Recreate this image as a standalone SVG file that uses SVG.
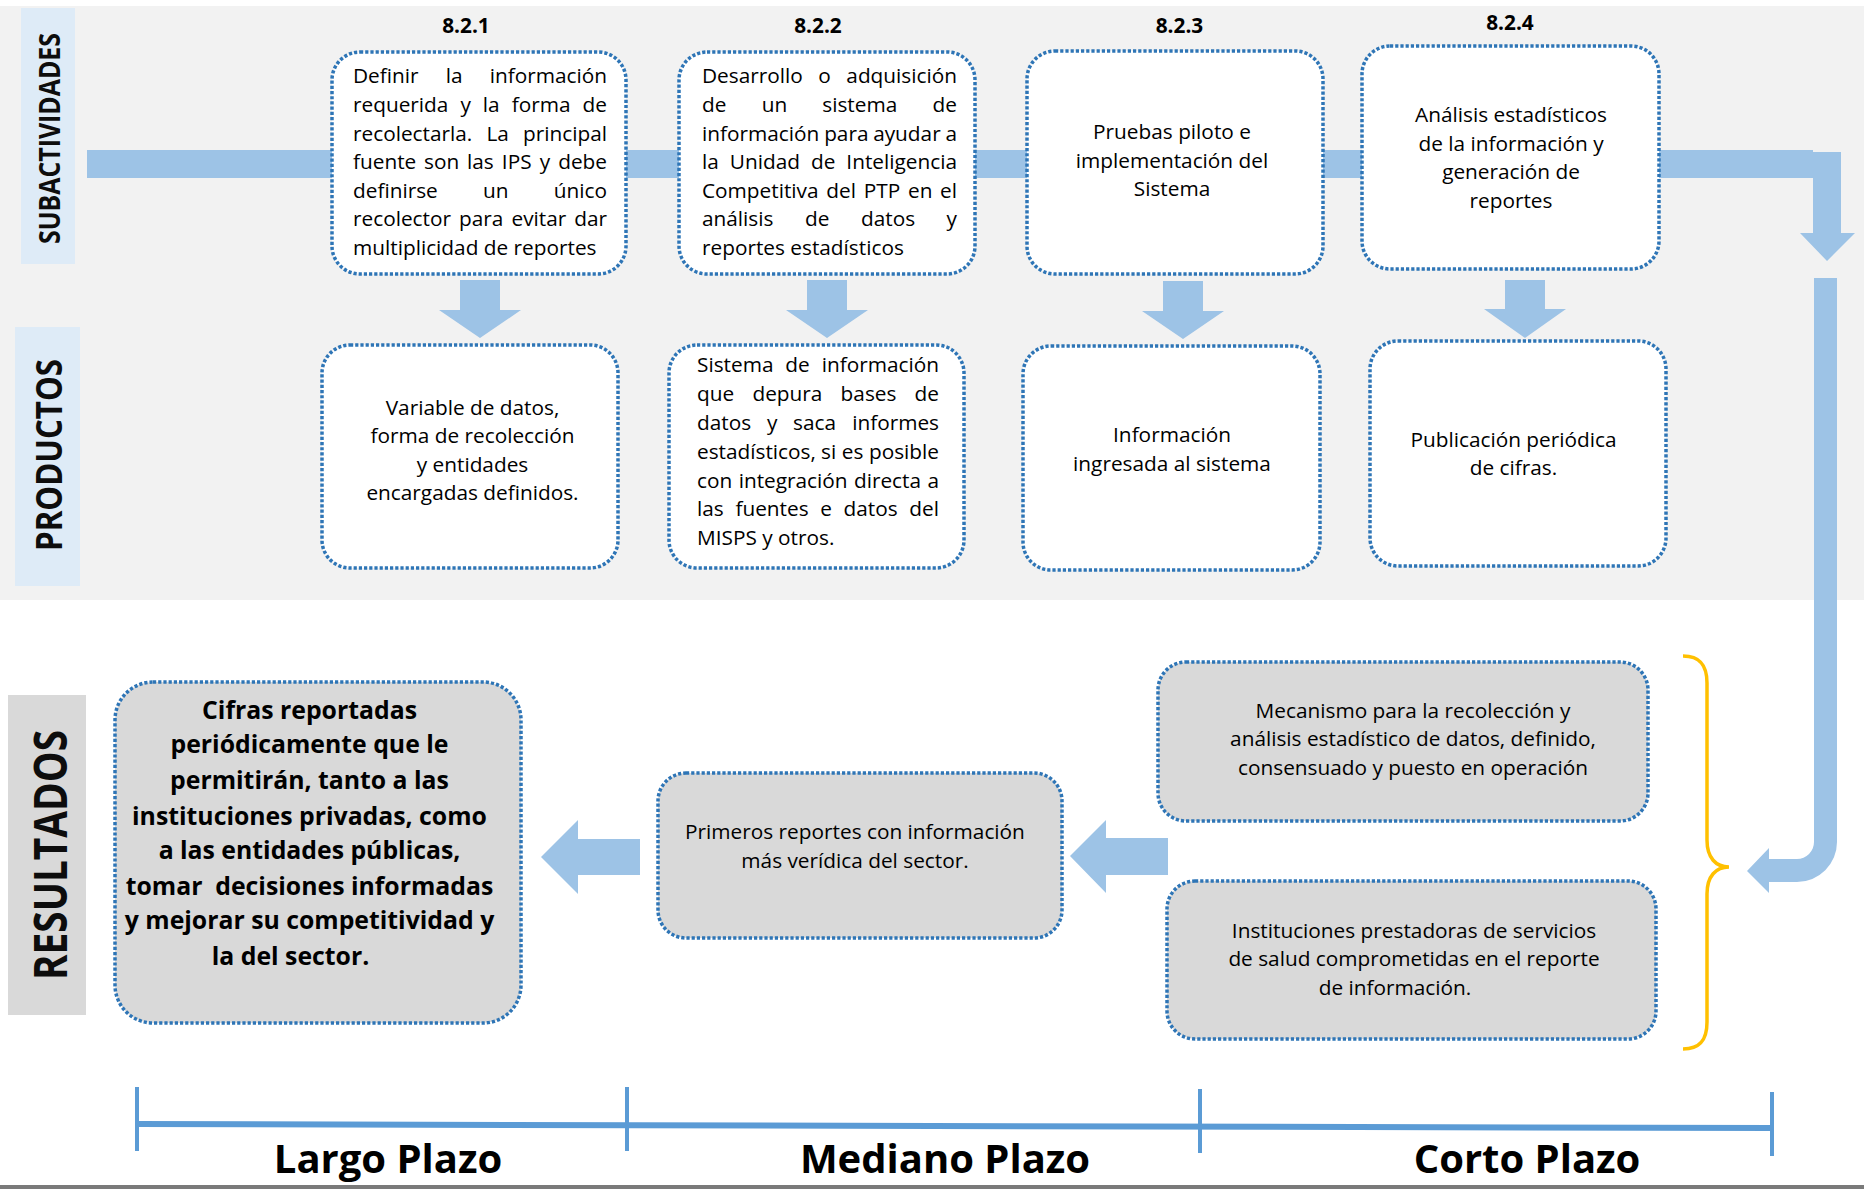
<svg xmlns="http://www.w3.org/2000/svg" width="1864" height="1189" viewBox="0 0 1864 1189">
  <style>
    .t { font-family: "Open Sans", "Liberation Sans", sans-serif; font-size: 20.8px; fill: #000; }
    .m { text-anchor: middle; }
    .e { text-anchor: end; }
    .b { font-weight: bold; }
    .big { font-size: 24.8px; }
    .axis { font-size: 40px; }
    .box { fill: #ffffff; stroke: #2e75b6; stroke-width: 3.5; stroke-dasharray: 3.2 2; }
    .gbox { fill: #d9d9d9; stroke: #2e75b6; stroke-width: 3.5; stroke-dasharray: 3.2 2; }
    .flow { fill: #9dc3e6; }
    .lane { font-family: "Open Sans", "Liberation Sans", sans-serif; font-weight: bold; fill: #0d0d0d; text-anchor: middle; }
    .tl { stroke: #5b9bd5; fill: none; }
  </style>

  <!-- backgrounds -->
  <rect x="0" y="0" width="1864" height="1189" fill="#ffffff"/>
  <rect x="0" y="6" width="1864" height="594" fill="#f2f2f2"/>
  <rect x="0" y="1185" width="1864" height="4" fill="#7a7a7a"/>

  <!-- lane labels -->
  <g id="lane-subactividades">
    <rect x="21" y="8" width="54" height="256" fill="#deebf7"/>
    <text class="lane" font-size="28" transform="translate(59.5,138.5) rotate(-90)" textLength="211" lengthAdjust="spacingAndGlyphs">SUBACTIVIDADES</text>
  </g>
  <g id="lane-productos">
    <rect x="15" y="327" width="65" height="259" fill="#deebf7"/>
    <text class="lane" font-size="36" transform="translate(62,455) rotate(-90)" textLength="192" lengthAdjust="spacingAndGlyphs">PRODUCTOS</text>
  </g>
  <g id="lane-resultados">
    <rect x="8" y="695" width="78" height="320" fill="#d9d9d9"/>
    <text class="lane" font-size="46" transform="translate(66.5,855) rotate(-90)" textLength="250" lengthAdjust="spacingAndGlyphs">RESULTADOS</text>
  </g>

  <!-- connectors -->
  <g id="connectors">
    <!-- main activity bar, turning down at the right -->
    <path class="flow" d="M87,150 H1813 V152 H1841 V233 H1855 L1827,261 L1800,233 H1813 V178 H87 Z"/>
    <!-- activity to product arrows -->
    <polygon class="flow" points="460,280 500,280 500,310 521,310 480,338 439,310 460,310"/>
    <polygon class="flow" points="807,280 847,280 847,310 868,310 827,338 786,310 807,310"/>
    <polygon class="flow" points="1163,281 1203,281 1203,311 1224,311 1183,339 1142,311 1163,311"/>
    <polygon class="flow" points="1505,280 1545,280 1545,309 1566,309 1525,338 1484,309 1505,309"/>
    <!-- down the right side and back into the results -->
    <path class="flow" d="M1814,278 H1837 V842 A40,40 0 0 1 1797,882 H1769 V893 L1747,871 L1769,848 V859 H1797 A17,17 0 0 0 1814,842 Z"/>
    <!-- results flowing left -->
    <polygon class="flow" points="1168,838 1168,875 1106,875 1106,893 1070,856 1106,820 1106,838"/>
    <polygon class="flow" points="640,839 640,875 578,875 578,894 541,857 578,820 578,839"/>
    <!-- brace grouping the short-term results -->
    <path d="M1683,656 C1700,656 1707,665 1707,683 V840 C1707,858 1716,867 1729,867 C1716,867 1707,876 1707,894 V1022 C1707,1040 1700,1049 1683,1049" fill="none" stroke="#ffc000" stroke-width="3.5"/>
  </g>

  <!-- step numbers -->
  <g class="t b m">
    <text x="466" y="33">8.2.1</text>
    <text x="818" y="33">8.2.2</text>
    <text x="1179.5" y="33">8.2.3</text>
    <text x="1510" y="29.5">8.2.4</text>
  </g>

  <!-- 8.2.1 -->
  <g id="act-821" class="t">
    <rect class="box" x="332" y="52" width="294" height="222" rx="28"/>
    <text x="353" y="83.3">Definir</text><text class="m" x="454.1" y="83.3">la</text><text class="e" x="607" y="83.3">información</text>
    <text x="353" y="111.9">requerida</text><text class="m" x="465.6" y="111.9">y</text><text class="m" x="491.2" y="111.9">la</text><text class="m" x="541.1" y="111.9">forma</text><text class="e" x="607" y="111.9">de</text>
    <text x="353" y="140.5">recolectarla.</text><text class="m" x="497.6" y="140.5">La</text><text class="e" x="607" y="140.5">principal</text>
    <text x="353" y="169.1">fuente</text><text class="m" x="441.6" y="169.1">son</text><text class="m" x="480.4" y="169.1">las</text><text class="m" x="516.7" y="169.1">IPS</text><text class="m" x="544.9" y="169.1">y</text><text class="e" x="607" y="169.1">debe</text>
    <text x="353" y="197.7">definirse</text><text class="m" x="495.8" y="197.7">un</text><text class="e" x="607" y="197.7">único</text>
    <text x="353" y="226.3">recolector</text><text class="m" x="481.2" y="226.3">para</text><text class="m" x="538.9" y="226.3">evitar</text><text class="e" x="607" y="226.3">dar</text>
    <text x="353" y="255">multiplicidad de reportes</text>
  </g>

  <!-- 8.2.2 -->
  <g id="act-822" class="t">
    <rect class="box" x="679" y="52" width="296" height="222" rx="28"/>
    <text x="702" y="83.3">Desarrollo</text><text class="m" x="824.5" y="83.3">o</text><text class="e" x="957" y="83.3">adquisición</text>
    <text x="702" y="111.9">de</text><text class="m" x="774.4" y="111.9">un</text><text class="m" x="859.8" y="111.9">sistema</text><text class="e" x="957" y="111.9">de</text>
    <text x="702" y="140.5">información</text><text class="m" x="846.3" y="140.5">para</text><text class="m" x="906.9" y="140.5">ayudar</text><text class="e" x="957" y="140.5">a</text>
    <text x="702" y="169.1">la</text><text class="m" x="764.9" y="169.1">Unidad</text><text class="m" x="823.2" y="169.1">de</text><text class="e" x="957" y="169.1">Inteligencia</text>
    <text x="702" y="197.7">Competitiva</text><text class="m" x="841.1" y="197.7">del</text><text class="m" x="882" y="197.7">PTP</text><text class="m" x="920.3" y="197.7">en</text><text class="e" x="957" y="197.7">el</text>
    <text x="702" y="226.3">análisis</text><text class="m" x="817.2" y="226.3">de</text><text class="m" x="888" y="226.3">datos</text><text class="e" x="957" y="226.3">y</text>
    <text x="702" y="255">reportes estadísticos</text>
  </g>

  <!-- 8.2.3 -->
  <g id="act-823" class="t m">
    <rect class="box" x="1027" y="51" width="296" height="223" rx="28"/>
    <text x="1172" y="139">Pruebas piloto e</text>
    <text x="1172" y="167.6">implementación del</text>
    <text x="1172" y="196.2">Sistema</text>
  </g>

  <!-- 8.2.4 -->
  <g id="act-824" class="t m">
    <rect class="box" x="1362" y="46" width="297" height="223" rx="28"/>
    <text x="1511" y="122">Análisis estadísticos</text>
    <text x="1511" y="150.6">de la información y</text>
    <text x="1511" y="179.2">generación de</text>
    <text x="1511" y="207.8">reportes</text>
  </g>

  <!-- products -->
  <g id="prod-1" class="t m">
    <rect class="box" x="322" y="345" width="296" height="223" rx="28"/>
    <text x="472.5" y="414.6">Variable de datos,</text>
    <text x="472.5" y="443.2">forma de recolección</text>
    <text x="472.5" y="471.8">y entidades</text>
    <text x="472.5" y="500.4">encargadas definidos.</text>
  </g>

  <g id="prod-2" class="t">
    <rect class="box" x="669" y="345" width="295" height="223" rx="28"/>
    <text x="697" y="372.3">Sistema</text><text class="m" x="797.5" y="372.3">de</text><text class="e" x="939" y="372.3">información</text>
    <text x="697" y="401.1">que</text><text class="m" x="787.4" y="401.1">depura</text><text class="m" x="868.5" y="401.1">bases</text><text class="e" x="939" y="401.1">de</text>
    <text x="697" y="429.9">datos</text><text class="m" x="772.1" y="429.9">y</text><text class="m" x="814.6" y="429.9">saca</text><text class="e" x="939" y="429.9">informes</text>
    <text x="697" y="458.7">estadísticos,</text><text class="m" x="828.6" y="458.7">si</text><text class="m" x="852.5" y="458.7">es</text><text class="e" x="939" y="458.7">posible</text>
    <text x="697" y="487.5">con</text><text class="m" x="793.1" y="487.5">integración</text><text class="m" x="887.5" y="487.5">directa</text><text class="e" x="939" y="487.5">a</text>
    <text x="697" y="516.3">las</text><text class="m" x="772" y="516.3">fuentes</text><text class="m" x="826" y="516.3">e</text><text class="m" x="870.6" y="516.3">datos</text><text class="e" x="939" y="516.3">del</text>
    <text x="697" y="545">MISPS y otros.</text>
  </g>

  <g id="prod-3" class="t m">
    <rect class="box" x="1023" y="346" width="297" height="224" rx="28"/>
    <text x="1172" y="442">Información</text>
    <text x="1172" y="470.6">ingresada al sistema</text>
  </g>

  <g id="prod-4" class="t m">
    <rect class="box" x="1370" y="341" width="296" height="225" rx="28"/>
    <text x="1513.5" y="446.7">Publicación periódica</text>
    <text x="1513.5" y="475.3">de cifras.</text>
  </g>

  <!-- results -->
  <g id="res-mecanismo" class="t m">
    <rect class="gbox" x="1158" y="662" width="490" height="159" rx="28"/>
    <text x="1413" y="717.7">Mecanismo para la recolección y</text>
    <text x="1413" y="746.3">análisis estadístico de datos, definido,</text>
    <text x="1413" y="774.9">consensuado y puesto en operación</text>
  </g>

  <g id="res-instituciones" class="t m">
    <rect class="gbox" x="1167" y="881" width="489" height="158" rx="28"/>
    <text x="1414" y="937.6">Instituciones prestadoras de servicios</text>
    <text x="1414" y="966.2">de salud comprometidas en el reporte</text>
    <text x="1395" y="994.8">de información.</text>
  </g>

  <g id="res-primeros" class="t m">
    <rect class="gbox" x="658" y="773" width="404" height="165" rx="28"/>
    <text x="855" y="839">Primeros reportes con información</text>
    <text x="855" y="867.6">más verídica del sector.</text>
  </g>

  <g id="res-cifras" class="t m b big">
    <rect class="gbox" x="115" y="682" width="406" height="341" rx="38"/>
    <text x="309.5" y="718.7">Cifras reportadas</text>
    <text x="309.5" y="753.2">periódicamente que le</text>
    <text x="309.5" y="788.9">permitirán, tanto a las</text>
    <text x="309.5" y="824.5">instituciones privadas, como</text>
    <text x="309.5" y="859">a las entidades públicas,</text>
    <text x="309.5" y="894.7" xml:space="preserve">tomar  decisiones informadas</text>
    <text x="309.5" y="929.1">y mejorar su competitividad y</text>
    <text x="290.5" y="964.8">la del sector.</text>
  </g>

  <!-- time axis -->
  <g id="timeline">
    <line class="tl" x1="137" y1="1124" x2="1772" y2="1128" stroke-width="6"/>
    <line class="tl" x1="137" y1="1087" x2="137" y2="1151" stroke-width="4"/>
    <line class="tl" x1="627" y1="1087" x2="627" y2="1151" stroke-width="4"/>
    <line class="tl" x1="1200" y1="1089" x2="1200" y2="1153" stroke-width="4"/>
    <line class="tl" x1="1772" y1="1092" x2="1772" y2="1156" stroke-width="4"/>
    <g class="t b m axis">
      <text x="388" y="1173">Largo Plazo</text>
      <text x="945" y="1173">Mediano Plazo</text>
      <text x="1527" y="1173">Corto Plazo</text>
    </g>
  </g>
</svg>
